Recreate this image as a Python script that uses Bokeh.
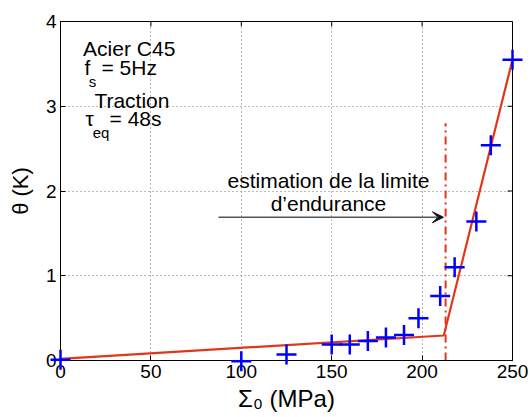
from bokeh.plotting import figure
from bokeh.models import Range1d, LinearAxis, FixedTicker, Label, Arrow, VeeHead
from bokeh.embed import file_html
from bokeh.resources import INLINE

# --- data ---
sigma = [0, 100, 125, 150, 160, 170, 180, 190, 198, 210, 218, 230, 238, 250]
theta = [0.01, -0.01, 0.07, 0.19, 0.19, 0.23, 0.27, 0.30, 0.50, 0.76, 1.10, 1.64, 2.54, 3.55]
fit_x = [0, 212, 250]
fit_y = [0.02, 0.295, 3.55]
limit_x = [213, 213]
limit_y = [0, 2.80]
x_ticks = [0, 50, 100, 150, 200, 250]
y_ticks = [0, 1, 2, 3, 4]

FONT = "Liberation Sans"
RED = "#e2361a"
X_MAX = x_ticks[-1]
Y_MAX = y_ticks[-1]

p = figure(width=530, height=417, output_backend="svg", toolbar_location=None,
           x_range=Range1d(0, X_MAX), y_range=Range1d(0, Y_MAX),
           min_border_left=60, min_border_right=18, min_border_top=21, min_border_bottom=57,
           x_axis_location=None, y_axis_location=None)
p.background_fill_color = "white"
p.border_fill_color = "white"
p.outline_line_color = "black"
p.outline_line_width = 1


def style_axis(ax, ticks):
    ax.ticker = FixedTicker(ticks=ticks)
    ax.major_tick_in = 5
    ax.major_tick_out = 0
    ax.minor_tick_line_color = None
    ax.axis_line_color = "black"
    ax.major_tick_line_color = "black"
    ax.major_label_text_font = FONT
    ax.major_label_text_color = "black"
    ax.major_label_text_font_size = "19px"
    ax.major_label_standoff = 4
    ax.axis_label_text_font = FONT
    ax.axis_label_text_font_style = "normal"
    ax.axis_label_text_color = "black"


xb = LinearAxis(); style_axis(xb, x_ticks)
xb.axis_label = "\u03a3\u2080 (MPa)"
xb.axis_label_text_font_size = "24px"
xb.axis_label_standoff = 4
p.add_layout(xb, "below")

yl = LinearAxis(); style_axis(yl, y_ticks)
yl.axis_label = "\u03b8 (K)"
yl.axis_label_text_font_size = "22px"
yl.axis_label_standoff = 10
p.add_layout(yl, "left")

p.xgrid.ticker = FixedTicker(ticks=x_ticks)
p.ygrid.ticker = FixedTicker(ticks=y_ticks)
for g in (p.xgrid, p.ygrid):
    g.grid_line_color = "#777777"
    g.grid_line_dash = "1 3"
    g.grid_line_width = 1

# inward ticks on the top and right edges (outer halves clipped by the frame)
p.scatter(x_ticks, [Y_MAX] * len(x_ticks), marker="dash", size=10, angle=1.5708,
          line_color="black", line_width=1)
p.scatter([X_MAX] * len(y_ticks), y_ticks, marker="dash", size=10,
          line_color="black", line_width=1)

# fit line and limit line
p.line(fit_x, fit_y, line_color=RED, line_width=2.2)
p.line(limit_x, limit_y, line_color=RED, line_width=2, line_dash="8 4 2 4")

# measured points
p.scatter(sigma, theta, marker="cross", size=20, line_color="blue", line_width=2.5,
          level="overlay")

# arrow
p.add_layout(Arrow(x_start=87.4, y_start=1.69, x_end=211.8, y_end=1.69,
                   line_color="#555555", line_width=1.5,
                   end=VeeHead(size=11, fill_color="#111111", line_color="#111111")))


def lab(x, y, text, size, align="center", baseline="middle"):
    p.add_layout(Label(x=x, y=y, text=text, text_font=FONT, text_font_size=size,
                       text_align=align, text_baseline=baseline, text_color="black"))


# annotation block
lab(38.0, 3.68, "Acier C45", "21px")
lab(13.3, 3.46, "f", "21px", align="left")
lab(15.6, 3.29, "s", "15px", align="left")
lab(38.0, 3.46, "= 5Hz", "21px")
lab(39.5, 3.07, "Traction", "21px")
lab(13.8, 2.86, "\u03c4", "21px", align="left")
lab(17.8, 2.69, "eq", "15px", align="left")
lab(41.5, 2.86, "= 48s", "21px")

lab(148.2, 2.12, "estimation de la limite", "21px")
lab(148.2, 1.85, "d\u2019endurance", "21px")

open("out.html", "w").write(file_html(p, INLINE))
